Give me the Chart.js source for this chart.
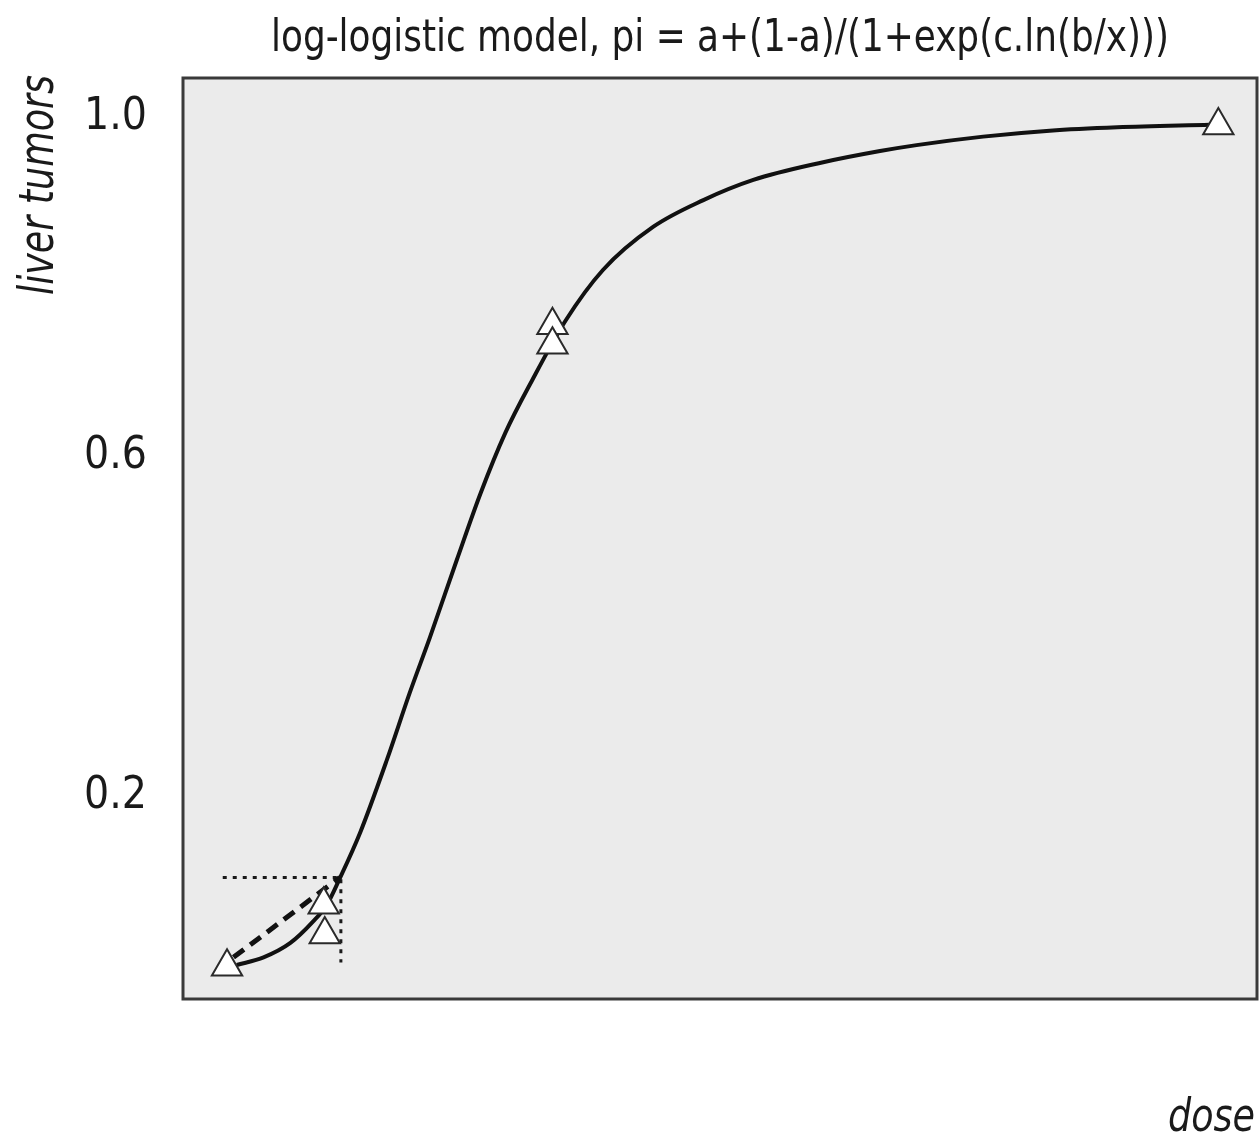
<!DOCTYPE html>
<html>
<head>
<meta charset="utf-8">
<script src="https://cdn.jsdelivr.net/npm/chart.js@4.4.0/dist/chart.umd.min.js"></script>
<style>
  html, body { margin: 0; padding: 0; background: #fff; }
  #wrap { width: 1259px; height: 1139px; }
</style>
</head>
<body>
<div id="wrap"><canvas id="myChart" width="1259" height="1139"></canvas></div>
<script>
// observed tumour rates (dose in arbitrary units across the plot)
var obsDose = [4.1, 13.1, 13.2, 34.4, 34.4, 96.4];
var obsRate = [0.0, 0.073, 0.038, 0.755, 0.732, 0.99];

// fitted log-logistic curve
var fitDose = [5.0, 7.5, 10.0, 12.1, 13.4, 14.6, 16.5, 19.0, 21.1, 23.0, 25.5, 27.7, 30.0, 32.5, 35.6, 39.1, 43.8, 48.4, 53.1, 59.3, 64.9, 68.3, 74.5, 80.7, 87.0, 95.6];
var fitRate = [0.002, 0.011, 0.028, 0.053, 0.073, 0.104, 0.158, 0.244, 0.322, 0.388, 0.479, 0.557, 0.628, 0.69, 0.76, 0.82, 0.871, 0.902, 0.926, 0.946, 0.96, 0.967, 0.977, 0.984, 0.988, 0.991];

// dashed chord and dotted guide lines near low dose
var chordDose = [4.7, 14.6];
var chordRate = [0.011, 0.105];
var guideDose = [3.7, 14.7, 14.7];
var guideRate = [0.105, 0.105, 0.005];

var yTicks = [0.2, 0.6, 1.0];

function pts(xs, ys) {
    return xs.map(function(x, i){ return { x: x, y: ys[i] }; });
}

var FONT = '"Liberation Sans Narrow", "DejaVu Sans Condensed", "Liberation Sans", sans-serif';

function fitText(ctx, txt, x, y, w, align) {
    var m = ctx.measureText(txt).width;
    var s = w / m;
    ctx.save();
    ctx.translate(x, y);
    ctx.scale(s, 1);
    ctx.textAlign = align || 'center';
    ctx.fillText(txt, 0, 0);
    ctx.restore();
}

var boxPlugin = {
    id: 'box',
    beforeDatasetsDraw: function(chart) {
        var a = chart.chartArea, ctx = chart.ctx;
        ctx.save();
        ctx.fillStyle = '#ebebeb';
        ctx.fillRect(a.left, a.top, a.right - a.left, a.bottom - a.top);
        ctx.restore();
    },
    afterDraw: function(chart) {
        var a = chart.chartArea, ctx = chart.ctx;
        ctx.save();
        ctx.strokeStyle = '#3a3a3a';
        ctx.lineWidth = 3;
        ctx.strokeRect(a.left, a.top, a.right - a.left, a.bottom - a.top);

        ctx.fillStyle = '#1a1a1a';
        ctx.textBaseline = 'alphabetic';
        // title
        ctx.font = '44px ' + FONT;
        fitText(ctx, 'log-logistic model, pi = a+(1-a)/(1+exp(c.ln(b/x)))', (a.left + a.right) / 2, 51, 898);
        // x axis label
        ctx.font = 'italic 46px ' + FONT;
        fitText(ctx, 'dose', 1255, 1131, 87, 'right');
        // y axis label
        ctx.save();
        ctx.translate(53, 185);
        ctx.rotate(-Math.PI / 2);
        ctx.font = 'italic 48px ' + FONT;
        fitText(ctx, 'liver tumors', 0, 0, 220);
        ctx.restore();
        ctx.restore();
    }
};

function renderChart() {
    var ctx = document.getElementById('myChart').getContext('2d');
    var myChart = new Chart(ctx, {
        type: 'scatter',
        data: {
            datasets: [{
                label: 'observed',
                data: pts(obsDose, obsRate),
                pointStyle: 'triangle',
                pointRadius: 17.5,
                pointBackgroundColor: '#ffffff',
                pointBorderColor: '#2a2a2a',
                pointBorderWidth: 2,
                showLine: false,
                clip: false,
                order: 0
            }, {
                label: 'fit',
                data: pts(fitDose, fitRate),
                showLine: true,
                borderColor: '#111111',
                borderWidth: 4,
                pointRadius: 0,
                cubicInterpolationMode: 'monotone',
                order: 1
            }, {
                label: 'chord',
                data: pts(chordDose, chordRate),
                showLine: true,
                borderColor: '#111111',
                borderWidth: 5,
                borderDash: [13, 8],
                pointRadius: 0,
                order: 2
            }, {
                label: 'guide',
                data: pts(guideDose, guideRate),
                showLine: true,
                borderColor: '#1a1a1a',
                borderWidth: 3,
                borderDash: [4, 6],
                pointRadius: 0,
                order: 3
            }]
        },
        options: {
            responsive: false,
            animation: false,
            layout: { autoPadding: false, padding: { top: 78, right: 2, bottom: 140, left: 0 } },
            plugins: {
                legend: { display: false },
                tooltip: { enabled: false },
                title: { display: false }
            },
            scales: {
                x: {
                    type: 'linear',
                    min: 0,
                    max: 100,
                    display: false
                },
                y: {
                    type: 'linear',
                    min: -0.038,
                    max: 1.046,
                    afterBuildTicks: function(s) {
                        s.ticks = yTicks.map(function(v){ return { value: v }; });
                    },
                    afterFit: function(s) { s.width = 183; },
                    grid: { display: false, drawTicks: false },
                    border: { display: false },
                    ticks: {
                        padding: 36,
                        color: '#1a1a1a',
                        font: { family: FONT, size: 44 },
                        callback: function(v) { return v.toFixed(1); }
                    }
                }
            }
        },
        plugins: [boxPlugin]
    });
}

renderChart();
</script>
</body>
</html>
